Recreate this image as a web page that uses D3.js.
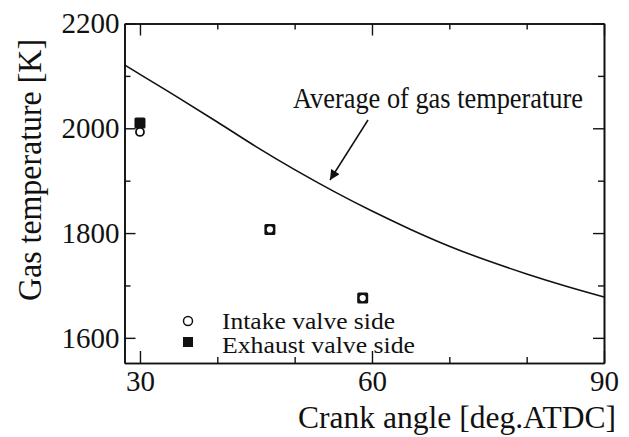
<!DOCTYPE html>
<html><head><meta charset="utf-8">
<script src="https://cdn.jsdelivr.net/npm/d3@7"></script>
<style>body{margin:0;background:#fff}svg{display:block}text{font-family:"Liberation Serif","Times New Roman",serif;fill:#111}</style>
</head><body>
<svg id="c" width="629" height="437"></svg>
<script>
// Average gas temperature curve
const avgAngle = [28, 30, 35, 40, 45, 50, 55, 60, 65, 70, 75, 80, 85, 90];
const avgTemp  = [2121, 2103, 2058, 2012, 1965, 1921, 1880, 1842, 1807, 1775, 1747, 1722, 1699, 1678];
// Measured points
const intakeAngle  = [30, 46.8, 58.8];
const intakeTemp   = [1993, 1807, 1676];
const exhaustAngle = [30, 46.8, 58.8];
const exhaustTemp  = [2010, 1807, 1676];
// Ticks
const xMajor = [30, 60, 90];
const xMinor = [40, 50, 70, 80];
const yMajor = [1600, 1800, 2000, 2200];
const yMinor = [1700, 1900, 2100];
const xLabel = "Crank angle [deg.ATDC]";
const yLabel = "Gas temperature [K]";
const annot = "Average of gas temperature";
const legendLabels = ["Intake valve side", "Exhaust valve side"];

const L = 124.5, R = 604, T = 23.5, B = 363;
const svg = d3.select("#c");
const x = d3.scaleLinear().domain([28, 90]).range([L, R]);
const y = d3.scaleLinear().domain([1552, 2200]).range([B, T]);

function ax(gen, tr, vals, size, labels) {
  const g = svg.append("g").attr("transform", tr)
    .call(gen.tickValues(vals).tickSize(size).tickSizeOuter(0).tickPadding(labels ? labels.pad : 0)
      .tickFormat(labels ? d3.format("d") : ""));
  g.select(".domain").attr("stroke", "#111").attr("stroke-width", 1.6);
  g.selectAll(".tick line").attr("stroke", "#111").attr("stroke-width", 1.4);
  g.selectAll("text").attr("font-size", 29).attr("fill", "#111")
    .style("font-family", '"Liberation Serif", serif');
  return g;
}
ax(d3.axisBottom(x), `translate(0,${B})`, xMajor, -12, {pad: 7});
ax(d3.axisBottom(x), `translate(0,${B})`, xMinor, -6, null);
ax(d3.axisTop(x), `translate(0,${T})`, xMajor, -12, null);
ax(d3.axisTop(x), `translate(0,${T})`, xMinor, -6, null);
ax(d3.axisLeft(y), `translate(${L},0)`, yMajor, -11, {pad: 5});
ax(d3.axisLeft(y), `translate(${L},0)`, yMinor, -6, null);
ax(d3.axisRight(y), `translate(${R},0)`, yMajor, -11, null);
ax(d3.axisRight(y), `translate(${R},0)`, yMinor, -6, null);

// curve
const line = d3.line().x(d => x(d[0])).y(d => y(d[1])).curve(d3.curveCatmullRom);
svg.append("path").datum(avgAngle.map((a, i) => [a, avgTemp[i]]))
  .attr("d", line).attr("fill", "none").attr("stroke", "#111").attr("stroke-width", 1.6);

// markers
const sq = 11;
svg.selectAll("rect.ex").data(exhaustAngle.map((a, i) => [a, exhaustTemp[i]])).enter()
  .append("rect").attr("x", d => x(d[0]) - sq / 2).attr("y", d => y(d[1]) - sq / 2)
  .attr("width", sq).attr("height", sq).attr("rx", 1.5).attr("fill", "#111");
svg.selectAll("circle.in").data(intakeAngle.map((a, i) => [a, intakeTemp[i]])).enter()
  .append("circle").attr("cx", d => x(d[0])).attr("cy", d => y(d[1])).attr("r", 4)
  .attr("fill", "#fff").attr("stroke", "#111").attr("stroke-width", 1.8);

// annotation
svg.append("text").attr("x", 293).attr("y", 108).attr("font-size", 29)
  .attr("textLength", 290).attr("lengthAdjust", "spacingAndGlyphs").text(annot);
svg.append("defs").append("marker").attr("id", "ah").attr("viewBox", "0 0 10 10")
  .attr("refX", 10).attr("refY", 5).attr("markerWidth", 18).attr("markerHeight", 10)
  .attr("markerUnits", "userSpaceOnUse").attr("orient", "auto")
  .append("path").attr("d", "M0,0 L10,5 L0,10 Z").attr("fill", "#111");
svg.append("line").attr("x1", 368).attr("y1", 120).attr("x2", 330).attr("y2", 180)
  .attr("stroke", "#111").attr("stroke-width", 1.5).attr("marker-end", "url(#ah)");

// legend
svg.append("circle").attr("cx", 188).attr("cy", 321).attr("r", 4.5)
  .attr("fill", "#fff").attr("stroke", "#111").attr("stroke-width", 1.5);
svg.append("rect").attr("x", 183).attr("y", 337).attr("width", 10).attr("height", 10).attr("fill", "#111");
svg.append("text").attr("x", 222).attr("y", 329).attr("font-size", 23)
  .attr("textLength", 173).attr("lengthAdjust", "spacingAndGlyphs").text(legendLabels[0]);
svg.append("text").attr("x", 222).attr("y", 353).attr("font-size", 23)
  .attr("textLength", 193).attr("lengthAdjust", "spacingAndGlyphs").text(legendLabels[1]);

// axis titles
svg.append("text").attr("x", 298).attr("y", 428).attr("font-size", 31)
  .attr("textLength", 318).attr("lengthAdjust", "spacingAndGlyphs").text(xLabel);
svg.append("text").attr("transform", "translate(41,301) rotate(-90)").attr("font-size", 34)
  .attr("textLength", 262).attr("lengthAdjust", "spacingAndGlyphs").text(yLabel);
</script>
</body></html>
